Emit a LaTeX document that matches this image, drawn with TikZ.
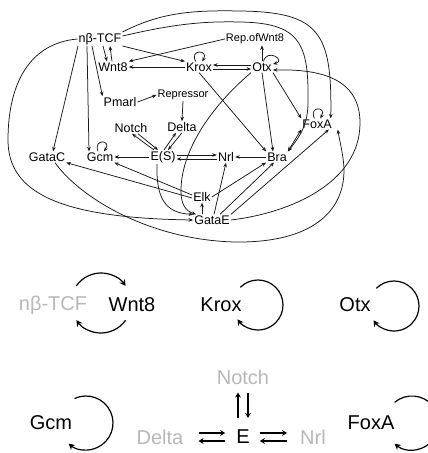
\documentclass[tikz,border=0pt]{standalone}
\usepackage{fontspec}
\setmainfont{Liberation Sans}
\usetikzlibrary{arrows.meta,calc}
\begin{document}
\begin{tikzpicture}[x=1pt,y=1pt,
  lab/.style={inner sep=1pt, font=\fontsize{12.5}{14}\selectfont},
  sm/.style={inner sep=1pt, font=\fontsize{11}{12}\selectfont},
  big/.style={inner sep=1pt, font=\fontsize{20}{22}\selectfont},
  faded/.style={text=black!28},
  arr/.style={line width=0.75pt, black!90, -{Stealth[length=4.5pt,width=3.6pt]}},
  arrb/.style={line width=0.75pt, black!90, {Stealth[length=4.5pt,width=3.6pt]}-{Stealth[length=4.5pt,width=3.6pt]}},
  cyc/.style={line width=1.2pt, -{Stealth[length=6pt,width=6.5pt]}},
  dbl/.style={line width=1.3pt, -{Stealth[length=5pt,width=6pt]}},
]
\fill[white] (0,0) rectangle (428,453);
\useasboundingbox (0,0) rectangle (428,453);

% ---------- top network nodes ----------
\node[lab] (tcf)   at (100,414) {nβ-TCF};
\node[sm]  (repw)  at (255,414) {Rep.ofWnt8};
\node[lab] (wnt)   at (113,386) {Wnt8};
\node[lab] (krox)  at (199,386) {Krox};
\node[lab] (otx)   at (262,386) {Otx};
\node[lab] (pmarl) at (120,351) {Pmarl};
\node[sm]  (repr)  at (183,358) {Repressor};
\node[lab] (notch) at (131,325) {Notch};
\node[lab] (delta) at (182,326) {Delta};
\node[lab] (foxa)  at (317,329) {FoxA};
\node[lab] (gatac) at (47,296)  {GataC};
\node[lab] (gcm)   at (100,296) {Gcm};
\node[lab] (es)    at (163,296) {E(S)};
\node[lab] (nrl)   at (226,296) {Nrl};
\node[lab] (bra)   at (277,296) {Bra};
\node[lab] (elk)   at (202,256) {Elk};
\node[lab] (gatae) at (212,233) {GataE};

% ---------- top network edges ----------
\draw[arr] ([xshift=3]tcf.south) -- ([xshift=-6]wnt.north);
\draw[arr] ([xshift=-1]wnt.north) -- ([xshift=10]tcf.south);
\draw[arr] (tcf.south east) -- (krox.north west);
\draw[arr] (repw.west) -- (wnt.north east);
\draw[arr] (krox.west) -- (wnt.east);
\draw[arr] ([yshift=2]otx.west) -- ([yshift=2]krox.east);
\draw[arr] ([yshift=-2]krox.east) -- ([yshift=-2]otx.west);
\draw[arr] (otx.north) -- (otx.north |- repw.south);
\draw[arr] ([xshift=-8]tcf.south) -- (pmarl.north west);
\draw[arr] (pmarl.east) -- (repr.west);
\draw[arr] (repr.south) -- (delta.north);
\draw[arr] ([xshift=-22]tcf.south) -- ([xshift=6]gatac.north);
\draw[arr] ([xshift=-13]tcf.south) -- ([xshift=-11]gcm.north);

% big curves
\draw[arr] (tcf.west) .. controls (30,410) and (8,370) .. (8,313)
                      .. controls (8,260) and (60,235) .. (gatae.west);
\draw[arr] ([xshift=8]gatac.south) .. controls (80,255) and (150,213) .. (235,211)
                      .. controls (310,210) and (345,240) .. (344,285)
                      .. controls (343,300) and (340,310) .. ([xshift=5]foxa.south east);
\draw[arr] (gatae.east) .. controls (290,240) and (360,270) .. (360,330)
                      .. controls (360,375) and (320,384) .. ([yshift=-3]otx.east);
\draw[arr] (tcf.north east) .. controls (160,440) and (190,443) .. (240,442)
                      .. controls (320,441) and (332,420) .. ([xshift=-2]foxa.north east);
\draw[arr] ([yshift=3]tcf.east) .. controls (170,428) and (200,432) .. (240,431)
                      .. controls (300,430) and (309,410) .. (308,350)
                      .. controls (308,325) and (296,312) .. (bra.north east);
\draw[arr] (otx.south west) .. controls (215,350) and (181,305) .. (181,262)
                      .. controls (181,248) and (186,242) .. ([xshift=3]gatae.north west);
\draw[arr] ([xshift=-6]es.south) .. controls (156,255) and (165,240) .. (gatae.north west);

\draw[arr] (krox.south) -- (bra.north west);
\draw[arr] (otx.south) -- ([xshift=-4]bra.north);
\draw[arr] (otx.south east) -- (foxa.north west);
\draw[arr] ([xshift=2]gatae.north) -- (nrl.south);
\draw[arr] ([xshift=8]gatae.north) -- ([xshift=-3]bra.south);
\draw[arr] (gatae.north east) -- ([xshift=-4]foxa.south east);
\draw[arr] (elk.east) -- (bra.south west);
\draw[arr] ([yshift=-1]elk.west) -- (gatac.south east);
\draw[arr] ([yshift=2]elk.west) -- (gcm.south east);
\draw[arr] ([xshift=-10]gatae.north) -- (elk.south);
\draw[arr] (es.west) -- (gcm.east);
\draw[arr] ([yshift=2]es.east) -- ([yshift=2]nrl.west);
\draw[arr] ([yshift=-2]nrl.west) -- ([yshift=-2]es.east);
\draw[arr] (bra.west) -- (nrl.east);
\draw[arr] ([xshift=-9]es.north) -- ([xshift=1]notch.south);
\draw[arr] ([xshift=7]notch.south) -- ([xshift=-5]es.north);
\draw[arr] ([xshift=1]es.north) -- ([xshift=-6]delta.south);
\draw[arr] (delta.south) -- ([xshift=5]es.north);
\draw[arrb] (bra.north east) -- (foxa.south west);

% self loops
\draw[arr] (krox) to[out=120,in=60,min distance=14pt] (krox);
\draw[arr] (otx) to[out=75,in=15,min distance=14pt] (otx);
\draw[arr] (foxa) to[out=115,in=60,min distance=14pt] (foxa);
\draw[arr] (gcm) to[out=110,in=55,min distance=14pt] (gcm);

% ---------- bottom part ----------
\node[big,faded] (tcfB)   at (53,148)  {nβ-TCF};
\node[big]       (wntB)   at (132,148) {Wnt8};
\node[big]       (kroxB)  at (221,148) {Krox};
\node[big]       (otxB)   at (355,148) {Otx};
\node[big,faded] (notchB) at (243,76)  {Notch};
\node[big]       (gcmB)   at (51,30)   {Gcm};
\node[big]       (foxaB)  at (371,30)  {FoxA};
\node[big,faded] (deltaB) at (160,16)  {Delta};
\node[big]       (eB)     at (243,16)  {E};
\node[big,faded] (nrlB)   at (313,16)  {Nrl};

\draw[cyc] (101,150) ++(145:30) arc[start angle=145,end angle=35,radius=30];
\draw[cyc] (101,150) ++(-35:30) arc[start angle=-35,end angle=-145,radius=30];
\draw[cyc] (258,148) ++(135:25) arc[start angle=135,end angle=-145,radius=25];
\draw[cyc] (394,147) ++(135:25) arc[start angle=135,end angle=-145,radius=25];
\draw[cyc] (86,30) ++(115:27) arc[start angle=115,end angle=-130,radius=27];
\draw[cyc] (412,30) ++(130:27) arc[start angle=130,end angle=-130,radius=27];

\draw[dbl, shorten <=11pt, shorten >=7pt] ([xshift=-5]eB.north) -- ([xshift=-5]notchB.south);
\draw[dbl, shorten <=7pt, shorten >=11pt] ([xshift=5]notchB.south) -- ([xshift=5]eB.north);
\draw[dbl, shorten <=14pt, shorten >=10pt] ([yshift=4]deltaB.east) -- ([yshift=4]eB.west);
\draw[dbl, shorten <=10pt, shorten >=14pt] ([yshift=-4]eB.west) -- ([yshift=-4]deltaB.east);
\draw[dbl, shorten <=9pt, shorten >=12pt] ([yshift=4]eB.east) -- ([yshift=4]nrlB.west);
\draw[dbl, shorten <=12pt, shorten >=9pt] ([yshift=-4]nrlB.west) -- ([yshift=-4]eB.east);
\end{tikzpicture}
\end{document}
